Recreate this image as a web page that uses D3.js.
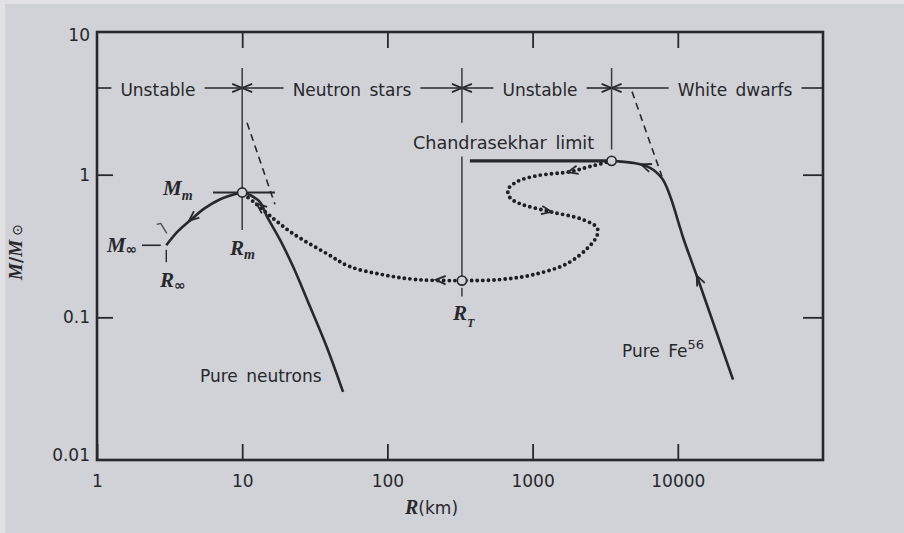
<!DOCTYPE html>
<html><head><meta charset="utf-8">
<script src="https://cdn.jsdelivr.net/npm/d3@7"></script>
<style>
body{margin:0;background:#d1d2d7;}
svg{display:block;}
</style></head><body><svg id="c" width="904" height="533"></svg>
<script>
// ---------- data (R in km, M in solar masses) ----------
const xTicks = [1, 10, 100, 1000, 10000];
const xTickLabels = ["1", "10", "100", "1000", "10000"];
const yTicks = [0.01, 0.1, 1, 10];
const yTickLabels = ["0.01", "0.1", "1", "10"];
const regionNames = ["Unstable", "Neutron stars", "Unstable", "White dwarfs"];
const regionBounds = [1, 10, 326, 3500, 1e5];
const regionLabelR = [2.63, 57, 1125, 24800];
const regionRowM = 4.05;

const neutronBranch = [[3.0,0.32],[3.6,0.40],[4.4,0.48],[5.5,0.58],[7.0,0.67],[8.5,0.72],[10,0.75],
  [11.3,0.72],[13.3,0.64],[14.8,0.51],[18.2,0.35],[22.4,0.227],[29.3,0.119],[38.4,0.0613],[49.5,0.030]];
const whiteDwarfBranch = [[3500,1.25],[4900,1.21],[6400,1.12],[7800,0.94],[8800,0.72],[10400,0.42],[11000,0.35],[13800,0.184],[24000,0.0366]];
const unstableBranch = [[3500,1.25],[2485,1.14],[1810,1.05],[1073,0.984],[781,0.893],[677,0.785],[699,0.69],
  [819,0.626],[1318,0.551],[2224,0.484],[2778,0.425],[2778,0.374],[2408,0.308],[1726,0.238],[1007,0.199],
  [596,0.184],[326,0.181],[160,0.184],[93,0.199],[55,0.227],[38.4,0.279],[22.4,0.386],[15.5,0.516],[12.2,0.636],[10.5,0.713]];
const nsDashed = [[10.8,2.31],[16.8,0.62]];
const wdDashed = [[4840,3.82],[7780,0.97]];
const chandraLine = [[370,1.25],[3500,1.25]];
const mmLine = [[6.3,0.75],[16.8,0.75]];
const minfLine = [[2.04,0.32],[2.75,0.32]];
const minfTick = [[3.0,0.298],[3.0,0.243]];
const criticalPoints = [[10,0.75],[326,0.181],[3500,1.25]];
const dividerSegments = [[10,5.6,0.41],[326,5.6,2.31],[326,1.34,0.181],[326,0.161,0.14],[3500,5.6,1.5]];
const arrows = [
  {from:[5.0,0.54], to:[4.3,0.475]},
  {from:[6500,1.115], to:[5600,1.18]},
  {from:[14800,0.16], to:[13500,0.196]},
  {from:[2100,1.09], to:[1750,1.04]},
  {from:[1150,0.565], to:[1350,0.549]},
  {from:[300,0.1815], to:[215,0.183]},
  {from:[14.2,0.565], to:[12.6,0.625]}
];

// ---------- setup ----------
const W = 904, H = 533;
const ink = "#27272c", bg = "#d1d2d7";
const sans = "'DejaVu Sans', Verdana, sans-serif";
const serif = "'Liberation Serif', 'Times New Roman', serif";
const x = d3.scaleLog().domain([1, 1e5]).range([97, 823]);
const y = d3.scaleLog().domain([0.01, 10]).range([460, 32]);
const svg = d3.select("#c");
svg.append("rect").attr("width", W).attr("height", H).attr("fill", bg);
svg.append("rect").attr("width", 5).attr("height", H).attr("fill", "#e2e2e5");
svg.append("rect").attr("width", W).attr("height", 4).attr("fill", "#e2e2e5");

const P = d => [x(d[0]), y(d[1])];
const line = d3.line().x(d => x(d[0])).y(d => y(d[1]));
const smooth = d3.line().x(d => x(d[0])).y(d => y(d[1])).curve(d3.curveCatmullRom.alpha(0.5));

// ---------- axes ----------
function styleAxis(g){
  g.select(".domain").remove();
  g.attr("font-family", sans).attr("font-size", 17);
  g.selectAll(".tick line").attr("stroke", ink).attr("stroke-width", 1.8);
  g.selectAll(".tick text").attr("fill", ink);
}
svg.append("g").attr("transform", `translate(0,${y(0.01)})`)
  .call(d3.axisBottom(x).tickValues(xTicks).tickFormat((d,i) => xTickLabels[i]).tickSize(-16).tickPadding(15))
  .call(styleAxis);
svg.append("g").attr("transform", `translate(0,${y(10)})`)
  .call(d3.axisTop(x).tickValues(xTicks.slice(1)).tickFormat("").tickSize(-16))
  .call(styleAxis);
const gy = svg.append("g").attr("transform", `translate(${x(1)},0)`)
  .call(d3.axisLeft(y).tickValues(yTicks).tickFormat((d,i) => yTickLabels[i]).tickSize(-16).tickPadding(7))
  .call(styleAxis);
gy.selectAll(".tick").filter(d => d === 10 || d === 0.01).select("line").remove();
gy.selectAll(".tick text").attr("dy", d => d === 10 ? "0.5em" : d === 0.01 ? "0.05em" : "0.32em");
svg.append("g").attr("transform", `translate(${x(1e5)},0)`)
  .call(d3.axisRight(y).tickValues([0.1, 1]).tickFormat("").tickSize(-20))
  .call(styleAxis);
svg.append("rect").attr("x", x(1)).attr("y", y(10))
  .attr("width", x(1e5) - x(1)).attr("height", y(0.01) - y(10))
  .attr("fill", "none").attr("stroke", ink).attr("stroke-width", 2.6);

// ---------- arrow helper ----------
function arrowHead(px, py, ang, len = 10, half = 4.2){
  const c = Math.cos(ang), s = Math.sin(ang);
  const bx = px - len * c, by = py - len * s;
  const p1 = [bx - half * s, by + half * c], p2 = [bx + half * s, by - half * c];
  svg.append("path").attr("d", `M${p1[0]},${p1[1]}L${px},${py}L${p2[0]},${p2[1]}`)
    .attr("fill", "none").attr("stroke", ink).attr("stroke-width", 1.8).attr("stroke-linejoin", "miter");
}

// ---------- region row ----------
const ry = y(regionRowM);
regionNames.forEach((name, i) => {
  const cx = x(regionLabelR[i]);
  const t = svg.append("text").attr("x", cx).attr("y", ry + 8).attr("text-anchor", "middle")
    .attr("font-family", sans).attr("font-size", 17).attr("fill", ink)
    .style("word-spacing", "3px").text(name);
  const w = t.node().getBBox().width;
  const a = x(regionBounds[i]), b = x(regionBounds[i + 1]);
  svg.append("line").attr("x1", a).attr("x2", cx - w / 2 - 9).attr("y1", ry).attr("y2", ry)
    .attr("stroke", ink).attr("stroke-width", 1.6);
  svg.append("line").attr("x1", cx + w / 2 + 9).attr("x2", b).attr("y1", ry).attr("y2", ry)
    .attr("stroke", ink).attr("stroke-width", 1.6);
  if (i > 0) arrowHead(a, ry, Math.PI);
  if (i < regionNames.length - 1) arrowHead(b, ry, 0);
});

// ---------- dividers ----------
dividerSegments.forEach(d => {
  svg.append("line").attr("x1", x(d[0])).attr("x2", x(d[0])).attr("y1", y(d[1])).attr("y2", y(d[2]))
    .attr("stroke", "#3a3a40").attr("stroke-width", 1.5);
});

// ---------- reference lines ----------
[[mmLine, 2], [minfLine, 1.6], [minfTick, 1.4]].forEach(([d, w]) => {
  svg.append("path").attr("d", line(d)).attr("fill", "none").attr("stroke", ink).attr("stroke-width", w);
});
svg.append("path").attr("d", line(chandraLine)).attr("fill", "none").attr("stroke", ink).attr("stroke-width", 3.2);
[nsDashed, wdDashed].forEach(d => {
  svg.append("path").attr("d", line(d)).attr("fill", "none").attr("stroke", ink)
    .attr("stroke-width", 1.6).attr("stroke-dasharray", "7,5");
});

// ---------- curves ----------
svg.append("path").attr("d", smooth(unstableBranch)).attr("fill", "none").attr("stroke", "#1e1e22")
  .attr("stroke-width", 3.9).attr("stroke-linecap", "round").attr("stroke-dasharray", "0,5.6");
svg.append("path").attr("d", smooth(neutronBranch)).attr("fill", "none").attr("stroke", ink)
  .attr("stroke-width", 2.6).attr("stroke-linejoin", "round");
svg.append("path").attr("d", smooth(whiteDwarfBranch)).attr("fill", "none").attr("stroke", ink)
  .attr("stroke-width", 2.6).attr("stroke-linejoin", "round");

arrows.forEach(a => {
  const p = P(a.from), q = P(a.to);
  arrowHead(q[0], q[1], Math.atan2(q[1] - p[1], q[0] - p[0]));
});

criticalPoints.forEach(d => {
  svg.append("circle").attr("cx", x(d[0])).attr("cy", y(d[1])).attr("r", 4.6)
    .attr("fill", bg).attr("stroke", ink).attr("stroke-width", 1.6);
});

// ---------- labels ----------
function symLabel(pt, main, sub, subDy, subSize, opts = {}){
  const t = svg.append("text").attr("x", x(pt[0])).attr("y", y(pt[1])).attr("fill", ink);
  t.append("tspan").attr("font-family", serif).attr("font-style", "italic").attr("font-weight", "bold")
    .attr("font-size", opts.size || 21).text(main);
  t.append("tspan").attr("font-family", opts.subSerif === false ? sans : serif)
    .attr("font-style", opts.subSerif === false ? "normal" : "italic").attr("font-weight", "bold")
    .attr("font-size", subSize).attr("dy", subDy).text(sub);
  return t;
}
symLabel([2.85, 0.724], "M", "m", 5, 14);
symLabel([8.24, 0.275], "R", "m", 4, 14);
symLabel([1.17, 0.289], "M", "∞", 2, 14, {subSerif: false});
symLabel([2.72, 0.164], "R", "∞", 3, 14, {subSerif: false});
symLabel([283, 0.0964], "R", "T", 7, 12);

// little squiggle near M∞ branch
(function(){
  const p = P([2.75, 0.42]);
  svg.append("path").attr("d", `M${p[0]-4},${p[1]-4}l4,-1l6,10`).attr("fill", "none")
    .attr("stroke", "#44444a").attr("stroke-width", 1.3);
})();

function sansLabel(pt, txt, size = 17){
  return svg.append("text").attr("x", x(pt[0])).attr("y", y(pt[1])).attr("font-family", sans).attr("font-size", size)
    .attr("fill", ink).style("word-spacing", "3px").text(txt);
}
sansLabel([150, 1.52], "Chandrasekhar limit", 17.6);
sansLabel([5.12, 0.0354], "Pure neutrons");
const fe = sansLabel([4130, 0.053], "Pure Fe");
fe.append("tspan").attr("font-size", 13).attr("dy", -8).text("56");

// axis titles
const xt = svg.append("text").attr("x", 405).attr("y", 514).attr("fill", ink);
xt.append("tspan").attr("font-family", serif).attr("font-style", "italic").attr("font-weight", "bold").attr("font-size", 20).text("R");
xt.append("tspan").attr("font-family", sans).attr("font-size", 17).text("(km)");

const yt = svg.append("text").attr("transform", "translate(22,252) rotate(-90)").attr("text-anchor", "middle").attr("fill", ink);
yt.append("tspan").attr("font-family", serif).attr("font-style", "italic").attr("font-weight", "bold").attr("font-size", 19).text("M");
yt.append("tspan").attr("font-family", sans).attr("font-weight", "bold").attr("font-size", 17).text("/");
yt.append("tspan").attr("font-family", serif).attr("font-style", "italic").attr("font-weight", "bold").attr("font-size", 19).text("M");
yt.append("tspan").attr("font-family", sans).attr("font-size", 14).attr("dx", 4).text("⊙");
</script></body></html>
